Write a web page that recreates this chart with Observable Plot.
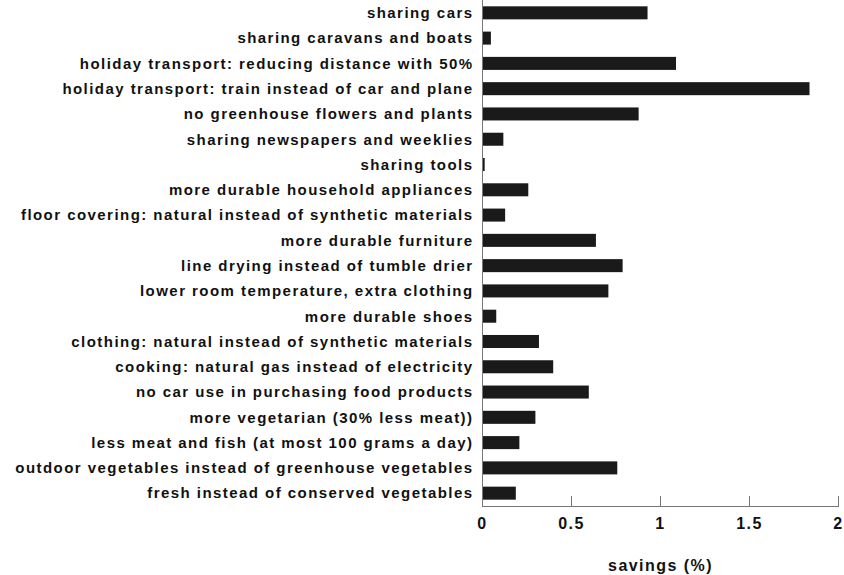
<!DOCTYPE html>
<html>
<head>
<meta charset="utf-8">
<script src="https://cdn.jsdelivr.net/npm/d3@7"></script>
<script src="https://cdn.jsdelivr.net/npm/@observablehq/plot@0.6"></script>
<style>
  html, body { margin: 0; padding: 0; background: #fff; }
  #chart svg { display: block; }
</style>
</head>
<body>
<div id="chart"></div>
<script>
const categories = [
  "sharing cars",
  "sharing caravans and boats",
  "holiday transport: reducing distance with 50%",
  "holiday transport: train instead of car and plane",
  "no greenhouse flowers and plants",
  "sharing newspapers and weeklies",
  "sharing tools",
  "more durable household appliances",
  "floor covering: natural instead of synthetic materials",
  "more durable furniture",
  "line drying instead of tumble drier",
  "lower room temperature, extra clothing",
  "more durable shoes",
  "clothing: natural instead of synthetic materials",
  "cooking: natural gas instead of electricity",
  "no car use in purchasing food products",
  "more vegetarian (30% less meat))",
  "less meat and fish (at most 100 grams a day)",
  "outdoor vegetables instead of greenhouse vegetables",
  "fresh instead of conserved vegetables"
];
const savings = [0.93, 0.05, 1.09, 1.84, 0.88, 0.12, 0.015, 0.26, 0.13, 0.64,
                 0.79, 0.71, 0.08, 0.32, 0.40, 0.60, 0.30, 0.21, 0.76, 0.19];
const xTicks = [0, 0.5, 1, 1.5, 2];
const xTickLabels = ["0", "0.5", "1", "1.5", "2"];

const data = categories.map((c, i) => ({category: c, value: savings[i]}));

const chart = Plot.plot({
  width: 844,
  height: 575,
  marginLeft: 482,
  marginRight: 6,
  marginTop: 0,
  marginBottom: 69,
  style: {
    fontFamily: "'Liberation Sans', Arial, sans-serif",
    fontWeight: "bold",
    fontSize: "15px",
    letterSpacing: "1.45px",
    color: "#111",
    background: "#fff"
  },
  x: {domain: [0, 2]},
  y: {domain: categories, paddingInner: 0.485, paddingOuter: 0.25, round: false},
  marks: [
    Plot.barX(data, {x: "value", y: "category", fill: "#1a1a1a"}),
    Plot.ruleX([0], {stroke: "#777", strokeWidth: 1}),
    Plot.frame({anchor: "bottom", stroke: "#777"}),
    Plot.axisY({tickSize: 0, tickPadding: 9, label: null, fontSize: 15}),
    Plot.axisX(xTicks, {
      tickSize: -10,
      tickPadding: 21,
      stroke: "#777",
      tickFormat: (d) => xTickLabels[xTicks.indexOf(d)],
      fontSize: 16,
      label: "savings (%)",
      labelAnchor: "center",
      labelArrow: "none",
      labelOffset: 64
    })
  ]
});
document.getElementById("chart").appendChild(chart);
</script>
</body>
</html>
